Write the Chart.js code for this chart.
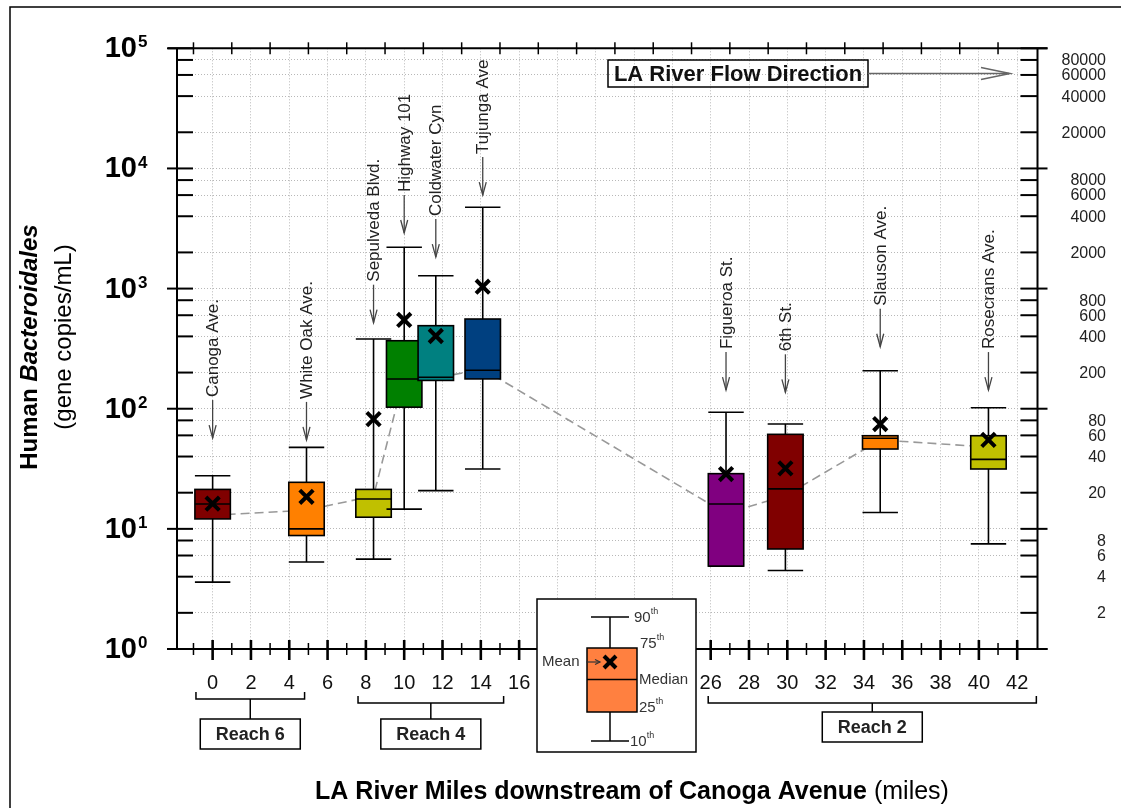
<!DOCTYPE html>
<html>
<head>
<meta charset="utf-8">
<script src="https://cdn.jsdelivr.net/npm/chart.js@4.4.1/dist/chart.umd.min.js"></script>
<style>
  html, body { margin: 0; padding: 0; background: #fff; }
  #chart { display: block; }
</style>
</head>
<body>
<canvas id="chart" width="1121" height="808"></canvas>
<script>
// ---- data ----
const siteNames = ['Canoga Ave.', 'White Oak Ave.', 'Sepulveda Blvd.', 'Highway 101', 'Coldwater Cyn',
                   'Tujunga Ave', 'Figueroa St.', '6th St.', 'Slauson Ave.', 'Rosecrans Ave.'];
const siteMiles = [0, 4.9, 8.4, 10, 11.65, 14.1, 26.8, 29.9, 34.85, 40.5];
const p10    = [3.6, 5.3, 5.6, 14.6, 20.8, 31.5, 4.9, 4.5, 13.7, 7.5];
const p25    = [12.1, 8.8, 12.5, 103, 172, 177, 4.9, 6.8, 46.2, 31.5];
const median = [16.1, 10, 17.7, 177, 183, 209, 16.1, 21.5, 56.7, 37.9];
const p75    = [21.3, 24.4, 21.3, 368, 491, 558, 28.8, 61.2, 59.6, 59.6];
const p90    = [27.7, 47.7, 380, 2206, 1280, 4748, 93.4, 74.6, 207, 102];
const means  = [16.2, 18.5, 82, 548, 403, 1037, 28.6, 31.9, 74.6, 55];
const trend  = [13, 14.3, 18.8, 187, 180, 214, 13.4, 18.9, 55, 48];
const boxColors = ['#800000', '#ff8000', '#c0c000', '#008000', '#008080',
                   '#004080', '#800080', '#800000', '#ff8000', '#c0c000'];
// where each site label arrow points (gene copies/mL)
const labelTips = [57, 55, 520, 2900, 1830, 6000, 143, 137, 328, 143];

const xTicks = [0, 2, 4, 6, 8, 10, 12, 14, 16, 18, 20, 22, 24, 26, 28, 30, 32, 34, 36, 38, 40, 42];
const xMinorTicks = [-1, 1, 3, 5, 7, 9, 11, 13, 15, 17, 19, 21, 23, 25, 27, 29, 31, 33, 35, 37, 39, 41];
const yDecades = [1, 10, 100, 1000, 10000, 100000];
const yMinor = [2, 4, 6, 8, 20, 40, 60, 80, 200, 400, 600, 800, 2000, 4000, 6000, 8000,
                20000, 40000, 60000, 80000];

const reachNames = ['Reach 6', 'Reach 4', 'Reach 2'];
const reachFrom = [-0.87, 7.59, 25.87];
const reachTo = [4.8, 15.19, 43.0];

// ---- layout / style ----
const FONT = '"Liberation Sans", Arial, sans-serif';
const boxHalf = 0.925;
const reachLayout = { bracketY: [699, 703, 703], boxTop: [719, 719, 712], boxW: 100, boxH: 30 };

function line(ctx, x1, y1, x2, y2) {
  ctx.beginPath(); ctx.moveTo(x1, y1); ctx.lineTo(x2, y2); ctx.stroke();
}

function drawBoxes(chart) {
  const { ctx, scales: { x, y } } = chart;
  ctx.save();
  ctx.strokeStyle = '#000';
  ctx.lineWidth = 1.6;
  siteMiles.forEach((m, i) => {
    const cx = x.getPixelForValue(m);
    const l = x.getPixelForValue(m - boxHalf), r = x.getPixelForValue(m + boxHalf);
    const y10 = y.getPixelForValue(p10[i]), y25 = y.getPixelForValue(p25[i]);
    const ym = y.getPixelForValue(median[i]);
    const y75 = y.getPixelForValue(p75[i]), y90 = y.getPixelForValue(p90[i]);
    line(ctx, cx, y10, cx, y90);
    line(ctx, l, y10, r, y10);
    line(ctx, l, y90, r, y90);
    ctx.fillStyle = boxColors[i];
    ctx.fillRect(l, y75, r - l, y25 - y75);
    ctx.strokeRect(l, y75, r - l, y25 - y75);
    line(ctx, l, ym, r, ym);
  });
  ctx.restore();
}

function drawAxes(chart) {
  const { ctx, chartArea: a, scales: { x, y } } = chart;
  ctx.save();
  ctx.strokeStyle = '#000';
  ctx.lineWidth = 2;
  line(ctx, a.left - 9, a.top, a.right + 10, a.top);
  line(ctx, a.left - 9, a.bottom, a.right + 10, a.bottom);
  line(ctx, a.left, a.top, a.left, a.bottom);
  line(ctx, a.right, a.top, a.right, a.bottom);

  ctx.lineWidth = 2.6;
  xTicks.forEach(v => {
    const px = x.getPixelForValue(v);
    line(ctx, px, a.bottom - 9, px, a.bottom + 11);
  });
  ctx.lineWidth = 1.5;
  xMinorTicks.forEach(v => {
    const px = x.getPixelForValue(v);
    line(ctx, px, a.bottom - 6, px, a.bottom + 6);
    line(ctx, px, a.top - 6, px, a.top + 6);
  });
  ctx.lineWidth = 2;
  yDecades.forEach(v => {
    const py = y.getPixelForValue(v);
    line(ctx, a.left - 10, py, a.left + 16, py);
    line(ctx, a.right - 17, py, a.right + 10, py);
  });
  yMinor.forEach(v => {
    const py = y.getPixelForValue(v);
    line(ctx, a.left, py, a.left + 16, py);
    line(ctx, a.right - 17, py, a.right, py);
  });

  // left decade labels 10^n
  ctx.fillStyle = '#000';
  yDecades.forEach((v, n) => {
    const py = y.getPixelForValue(v);
    ctx.font = 'bold 29px ' + FONT;
    ctx.textAlign = 'right';
    ctx.textBaseline = 'middle';
    ctx.fillText('10', 137, py + 1);
    ctx.font = 'bold 17px ' + FONT;
    ctx.textAlign = 'left';
    ctx.textBaseline = 'top';
    ctx.fillText(String(n), 138, py - 14);
  });
  // right labels
  ctx.font = '16px ' + FONT;
  ctx.fillStyle = '#222';
  ctx.textAlign = 'right';
  ctx.textBaseline = 'middle';
  yMinor.forEach(v => ctx.fillText(String(v), 1106, y.getPixelForValue(v) + 1));
  // bottom labels
  ctx.font = '20px ' + FONT;
  ctx.fillStyle = '#111';
  ctx.textAlign = 'center';
  xTicks.forEach(v => ctx.fillText(String(v), x.getPixelForValue(v), a.bottom + 34));
  ctx.restore();
}

function drawSiteLabels(chart) {
  const { ctx, scales: { x, y } } = chart;
  ctx.save();
  siteNames.forEach((name, i) => {
    const cx = x.getPixelForValue(siteMiles[i]);
    const tip = y.getPixelForValue(labelTips[i]);
    const top = tip - 38;
    ctx.strokeStyle = '#444';
    ctx.lineWidth = 1.3;
    line(ctx, cx, top, cx, tip);
    ctx.beginPath();
    ctx.moveTo(cx - 3.5, tip - 13); ctx.lineTo(cx, tip); ctx.lineTo(cx + 3.5, tip - 13);
    ctx.stroke();
    ctx.save();
    ctx.translate(cx + 1, top - 3);
    ctx.rotate(-Math.PI / 2);
    ctx.font = '17px ' + FONT;
    ctx.fillStyle = '#222';
    ctx.textAlign = 'left';
    ctx.textBaseline = 'middle';
    ctx.fillText(name, 0, 0);
    ctx.restore();
  });
  ctx.restore();
}

function drawFlow(chart) {
  const { ctx } = chart;
  ctx.save();
  ctx.strokeStyle = '#000';
  ctx.lineWidth = 1.5;
  ctx.strokeRect(608, 60, 260, 27);
  ctx.font = 'bold 22px ' + FONT;
  ctx.fillStyle = '#111';
  ctx.textAlign = 'center';
  ctx.textBaseline = 'middle';
  ctx.fillText('LA River Flow Direction', 738, 74.5);
  ctx.strokeStyle = '#666';
  line(ctx, 868, 73.5, 1009, 73.5);
  ctx.beginPath();
  ctx.moveTo(981, 67.5); ctx.lineTo(1010, 73.5); ctx.lineTo(981, 79.5);
  ctx.stroke();
  ctx.restore();
}

function drawReaches(chart) {
  const { ctx, scales: { x } } = chart;
  ctx.save();
  ctx.strokeStyle = '#000';
  ctx.lineWidth = 1.5;
  reachNames.forEach((name, i) => {
    const l = x.getPixelForValue(reachFrom[i]), r = x.getPixelForValue(reachTo[i]);
    const by = reachLayout.bracketY[i], bt = reachLayout.boxTop[i];
    const mid = (l + r) / 2;
    ctx.beginPath();
    ctx.moveTo(l, by - 7); ctx.lineTo(l, by); ctx.lineTo(r, by); ctx.lineTo(r, by - 7);
    ctx.stroke();
    line(ctx, mid, by, mid, bt);
    ctx.strokeRect(mid - reachLayout.boxW / 2, bt, reachLayout.boxW, reachLayout.boxH);
    ctx.font = 'bold 18px ' + FONT;
    ctx.fillStyle = '#222';
    ctx.textAlign = 'center';
    ctx.textBaseline = 'middle';
    ctx.fillText(name, mid, bt + reachLayout.boxH / 2 + 1);
  });
  ctx.restore();
}

function supLabel(ctx, txt, sup, x0, y0) {
  ctx.font = '15px ' + FONT;
  ctx.textAlign = 'left';
  ctx.textBaseline = 'middle';
  ctx.fillText(txt, x0, y0);
  const w = ctx.measureText(txt).width;
  ctx.font = '9px ' + FONT;
  ctx.fillText(sup, x0 + w, y0 - 6);
}

function drawKey(chart) {
  const { ctx } = chart;
  ctx.save();
  ctx.fillStyle = '#fff';
  ctx.fillRect(537, 599, 159, 153);
  ctx.strokeStyle = '#000';
  ctx.lineWidth = 1.5;
  ctx.strokeRect(537, 599, 159, 153);
  const cx = 610;
  line(ctx, cx, 617, cx, 741);
  line(ctx, 591, 617, 629, 617);
  line(ctx, 591, 741, 629, 741);
  ctx.fillStyle = '#ff8040';
  ctx.fillRect(587, 648, 50, 64);
  ctx.strokeRect(587, 648, 50, 64);
  line(ctx, 587, 679.5, 637, 679.5);
  ctx.lineWidth = 4;
  line(ctx, cx - 6, 656, cx + 6, 668);
  line(ctx, cx + 6, 656, cx - 6, 668);
  ctx.fillStyle = '#333';
  supLabel(ctx, '90', 'th', 634, 618);
  supLabel(ctx, '75', 'th', 640, 644);
  supLabel(ctx, '25', 'th', 639, 708);
  supLabel(ctx, '10', 'th', 630, 742);
  ctx.font = '15px ' + FONT;
  ctx.fillText('Median', 639, 680);
  ctx.fillText('Mean', 542, 662);
  ctx.strokeStyle = '#333';
  ctx.lineWidth = 1.2;
  line(ctx, 586, 662, 600, 662);
  ctx.beginPath();
  ctx.moveTo(595, 659.5); ctx.lineTo(600, 662); ctx.lineTo(595, 664.5);
  ctx.stroke();
  ctx.restore();
}

function drawTitles(chart) {
  const { ctx } = chart;
  ctx.save();
  ctx.fillStyle = '#000';
  ctx.textBaseline = 'middle';
  // x title
  const bold = 'bold 25px ' + FONT, reg = '25px ' + FONT;
  const t1 = 'LA River Miles downstream of Canoga Avenue', t2 = ' (miles)';
  ctx.font = bold; const w1 = ctx.measureText(t1).width;
  ctx.font = reg; const w2 = ctx.measureText(t2).width;
  let sx = 632 - (w1 + w2) / 2;
  ctx.textAlign = 'left';
  ctx.font = bold; ctx.fillText(t1, sx, 792);
  ctx.font = reg; ctx.fillText(t2, sx + w1, 792);
  // y title, two rotated lines
  ctx.save();
  ctx.translate(30, 347);
  ctx.rotate(-Math.PI / 2);
  const a1 = 'Human ', a2 = 'Bacteroidales';
  const f1 = 'bold 24px ' + FONT, f2 = 'italic bold 24px ' + FONT;
  ctx.font = f1; const wa = ctx.measureText(a1).width;
  ctx.font = f2; const wb = ctx.measureText(a2).width;
  ctx.font = f1; ctx.fillText(a1, -(wa + wb) / 2, 0);
  ctx.font = f2; ctx.fillText(a2, -(wa + wb) / 2 + wa, 0);
  ctx.restore();
  ctx.save();
  ctx.translate(64, 337);
  ctx.rotate(-Math.PI / 2);
  ctx.font = '24px ' + FONT;
  ctx.textAlign = 'center';
  ctx.fillText('(gene copies/mL)', 0, 0);
  ctx.restore();
  // outer frame
  ctx.strokeStyle = '#000';
  ctx.lineWidth = 1.5;
  ctx.strokeRect(10, 7, 1200, 900);
  ctx.restore();
}

const decorPlugin = {
  id: 'decor',
  afterDatasetDraw(chart, args) {
    if (args.index === 0) drawBoxes(chart);
  },
  afterDraw(chart) {
    drawAxes(chart);
    drawSiteLabels(chart);
    drawFlow(chart);
    drawReaches(chart);
    drawKey(chart);
    drawTitles(chart);
  }
};

const gridOpts = { color: '#b8b8b8', lineWidth: 1, drawTicks: false };
const borderOpts = { display: false, dash: [1, 2] };

new Chart(document.getElementById('chart').getContext('2d'), {
  type: 'scatter',
  data: {
    datasets: [{
      type: 'line',
      label: 'trend',
      data: siteMiles.map((m, i) => ({ x: m, y: trend[i] })),
      borderColor: '#999',
      borderWidth: 1.6,
      borderDash: [9, 5],
      pointRadius: 0,
      fill: false,
      tension: 0,
      order: 2
    }, {
      label: 'mean',
      data: siteMiles.map((m, i) => ({ x: m, y: means[i] })),
      pointStyle: 'crossRot',
      pointRadius: 9.5,
      borderWidth: 4,
      borderColor: '#000',
      backgroundColor: '#000',
      order: 1
    }]
  },
  options: {
    responsive: false,
    animation: false,
    devicePixelRatio: 1,
    layout: { padding: { left: 177, right: 83.5, top: 48.3, bottom: 159 } },
    plugins: { legend: { display: false }, tooltip: { enabled: false } },
    scales: {
      x: {
        type: 'linear', min: -1.86, max: 43.06,
        afterBuildTicks: s => { s.ticks = xTicks.map(v => ({ value: v })); },
        ticks: { display: false },
        grid: gridOpts,
        border: borderOpts
      },
      y: {
        type: 'logarithmic', min: 1, max: 100000,
        afterBuildTicks: s => { s.ticks = yDecades.concat(yMinor).map(v => ({ value: v })); },
        ticks: { display: false },
        grid: gridOpts,
        border: borderOpts
      }
    }
  },
  plugins: [decorPlugin]
});
</script>
</body>
</html>
